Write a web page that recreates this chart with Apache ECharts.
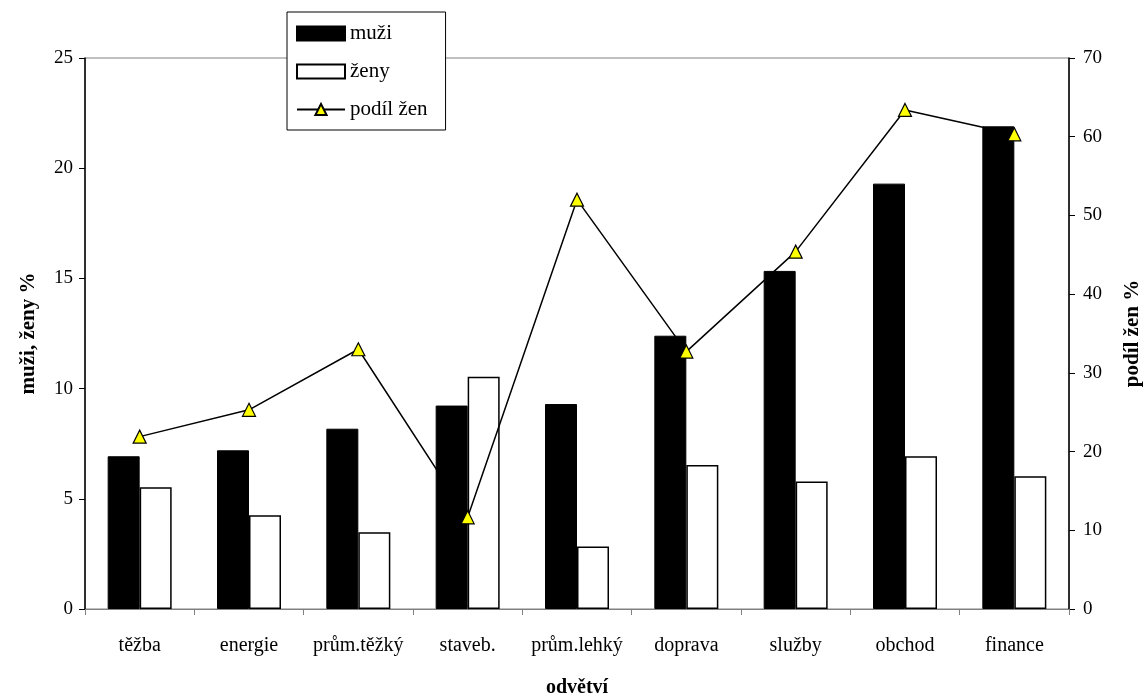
<!DOCTYPE html>
<html>
<head>
<meta charset="utf-8">
<script src="https://cdn.jsdelivr.net/npm/echarts@6/dist/echarts.min.js"></script>
<style>html,body{margin:0;padding:0;background:#fff}#c{width:1147px;height:695px}</style>
</head>
<body>
<div id="c"></div>
<script>
const categories = ['těžba','energie','prům.těžký','staveb.','prům.lehký','doprava','služby','obchod','finance'];
const muzi = [6.93, 7.2, 8.18, 9.23, 9.3, 12.4, 15.34, 19.3, 21.9];
const zeny = [5.52, 4.25, 3.48, 10.54, 2.84, 6.53, 5.79, 6.93, 6.02];
const podilZen = [21.9, 25.3, 33.0, 11.65, 52.0, 32.7, 45.4, 63.4, 60.3];
const leftTicks = {min: 0, max: 25, interval: 5};
const rightTicks = {min: 0, max: 70, interval: 10};

const FONT = '"Liberation Serif", "Times New Roman", serif';
const chart = echarts.init(document.getElementById('c'));
chart.setOption({
  animation: false,
  backgroundColor: '#fff',
  textStyle: {fontFamily: FONT, color: '#000'},
  grid: {left: 85, right: 78, top: 58, bottom: 86, show: true, borderColor: '#808080', borderWidth: 1,
         containLabel: false, outerBoundsMode: 'none'},
  legend: {
    orient: 'vertical', left: 287, top: 12,
    backgroundColor: '#fff', borderColor: '#000', borderWidth: 1,
    padding: [11, 18, 10, 9], itemGap: 17, itemWidth: 48, itemHeight: 14,
    textStyle: {fontFamily: FONT, fontSize: 21, color: '#000'},
    data: [{name: 'muži', icon: 'rect'}, {name: 'ženy', icon: 'rect'}, {name: 'podíl žen'}]
  },
  xAxis: {
    type: 'category', data: categories,
    name: 'odvětví', nameLocation: 'middle', nameGap: 69,
    nameTextStyle: {fontFamily: FONT, fontWeight: 'bold', fontSize: 20, color: '#000'},
    axisLine: {lineStyle: {color: '#808080', width: 1}},
    axisTick: {show: true, interval: 0, length: 6, lineStyle: {color: '#808080'}},
    axisLabel: {interval: 0, hideOverlap: false, fontFamily: FONT, fontSize: 20, color: '#000', margin: 27}
  },
  yAxis: [{
    type: 'value', min: leftTicks.min, max: leftTicks.max, interval: leftTicks.interval,
    name: 'muži, ženy %', nameLocation: 'middle', nameGap: 46, nameRotate: 90,
    nameTextStyle: {fontFamily: FONT, fontWeight: 'bold', fontSize: 21, color: '#000'},
    axisLine: {show: true, lineStyle: {color: '#000', width: 1.5}},
    axisTick: {show: true, length: 6, lineStyle: {color: '#000'}},
    axisLabel: {fontFamily: FONT, fontSize: 19, color: '#000', margin: 12},
    splitLine: {show: false}
  }, {
    type: 'value', min: rightTicks.min, max: rightTicks.max, interval: rightTicks.interval,
    name: 'podíl žen %', nameLocation: 'middle', nameGap: 53, nameRotate: 90,
    nameTextStyle: {fontFamily: FONT, fontWeight: 'bold', fontSize: 21, color: '#000'},
    axisLine: {show: true, lineStyle: {color: '#000', width: 1.5}},
    axisTick: {show: true, length: 6, lineStyle: {color: '#000'}},
    axisLabel: {fontFamily: FONT, fontSize: 19, color: '#000', margin: 14},
    splitLine: {show: false}
  }],
  series: [{
    name: 'muži', type: 'bar', data: muzi, barWidth: 32, barGap: '0%',
    itemStyle: {color: '#000', borderColor: '#000', borderWidth: 1}
  }, {
    name: 'ženy', type: 'bar', data: zeny, barWidth: 32, barGap: '0%',
    itemStyle: {color: '#fff', borderColor: '#000', borderWidth: 1.5}
  }, {
    name: 'podíl žen', type: 'line', yAxisIndex: 1, data: podilZen, z: 5,
    symbol: 'triangle', symbolSize: 13,
    lineStyle: {color: '#000', width: 1.5},
    itemStyle: {color: '#ffff00', borderColor: '#000', borderWidth: 1.2}
  }]
});
</script>
</body>
</html>
